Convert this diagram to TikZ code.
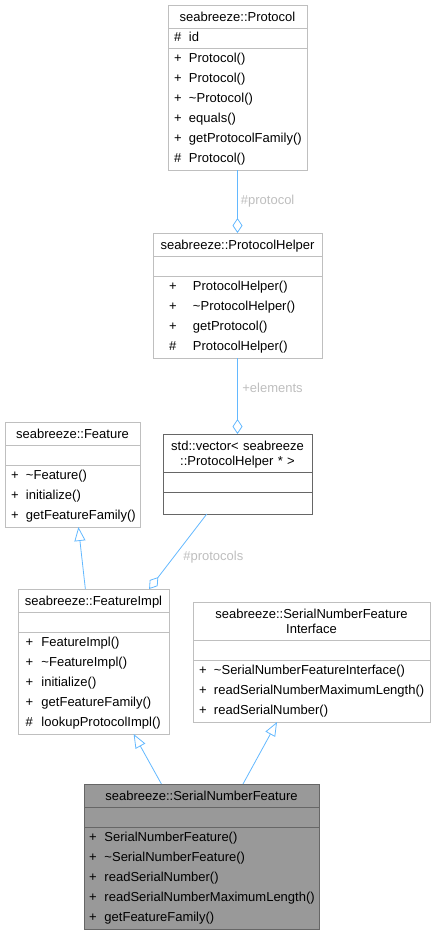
\documentclass[tikz,border=0pt]{standalone}
\usepackage{fontspec}
\setmainfont{Liberation Sans}
\usetikzlibrary{arrows.meta}
\usetikzlibrary{shapes.multipart}

\definecolor{edgeblue}{HTML}{63B8FF}
\definecolor{labelgrey}{HTML}{BEBEBE}
\definecolor{boxgrey}{HTML}{BFBFBF}
\definecolor{darkgrey}{HTML}{666666}
\definecolor{rootfill}{HTML}{999999}

\newlength\opindent
\newlength\opgap
\setlength\opindent{6pt}
\setlength\opgap{15pt}
\newcommand{\titlestrut}{\rule[-6pt]{0pt}{21pt}}
\newcommand{\attrstrut}{\rule[-6pt]{0pt}{18pt}}
\newcommand{\opstrut}{\rule[-7pt]{0pt}{20pt}}
\newcommand{\op}[2]{\hspace*{\opindent}\makebox[\opgap][l]{#1}#2\opstrut}
\newcommand{\classattr}[2]{\hspace*{\opindent}\makebox[\opgap][l]{#1}#2\attrstrut}

\begin{document}
\begin{tikzpicture}[x=1pt, y=-1pt]
\tikzset{font=\fontsize{13}{20}\selectfont}
\tikzset{umlclass/.style={rectangle split, rectangle split parts=3, draw=boxgrey, fill=white, line width=1pt, anchor=north west, outer sep=0pt, inner xsep=0pt, inner ysep=0.5pt}}
\tikzset{undocumented/.style={umlclass, draw=darkgrey}}
\tikzset{rootclass/.style={umlclass, draw=darkgrey, fill=rootfill}}
\tikzset{members/.code 2 args={\setlength\opindent{#1}\setlength\opgap{#2}}}
\tikzset{aggregation/.style={draw=edgeblue, line width=0.8pt, -{Diamond[open, length=15pt, width=10pt]}}}
\tikzset{inheritance/.style={draw=edgeblue, line width=0.8pt, -{Triangle[open, length=14pt, width=11pt]}}}
\tikzset{edgelabel/.style={text=labelgrey, inner sep=0pt}}
\useasboundingbox (0,0) rectangle (434,935);

\node[umlclass, text width=139pt] (protocol) at (168,5) {\centering seabreeze::Protocol\titlestrut\par
\nodepart{two} \classattr{\#}{id}
\nodepart{three} \op{+}{Protocol()}\\ \op{+}{Protocol()}\\ \op{+}{\textasciitilde Protocol()}\\ \op{+}{equals()}\\ \op{+}{getProtocolFamily()}\\ \op{\#}{Protocol()}};

\node[umlclass, text width=169pt, members={16pt}{24pt}] (protocolhelper) at (153,233) {\centering seabreeze::ProtocolHelper\titlestrut\par
\nodepart{two} \attrstrut
\nodepart{three} \op{+}{ProtocolHelper()}\\ \op{+}{\textasciitilde ProtocolHelper()}\\ \op{+}{getProtocol()}\\ \op{\#}{ProtocolHelper()}};

\node[undocumented, text width=149pt] (helpervector) at (163,434) {\centering std::vector< seabreeze\rule{0pt}{15pt}\\[-5pt] ::ProtocolHelper * >\rule[-6pt]{0pt}{6pt}\par
\nodepart{two} \attrstrut
\nodepart{three} \opstrut};

\node[umlclass, text width=135pt] (feature) at (5,422) {\centering seabreeze::Feature\titlestrut\par
\nodepart{two} \attrstrut
\nodepart{three} \op{+}{\textasciitilde Feature()}\\ \op{+}{initialize()}\\ \op{+}{getFeatureFamily()}};

\node[umlclass, text width=151pt, members={7.5pt}{16pt}] (featureimpl) at (18,589) {\centering seabreeze::FeatureImpl\titlestrut\par
\nodepart{two} \attrstrut
\nodepart{three} \op{+}{FeatureImpl()}\\ \op{+}{\textasciitilde FeatureImpl()}\\ \op{+}{initialize()}\\ \op{+}{getFeatureFamily()}\\ \op{\#}{lookupProtocolImpl()}};

\node[umlclass, text width=237pt] (snfinterface) at (193,602) {\centering seabreeze::SerialNumberFeature\rule{0pt}{15pt}\\[-5pt] Interface\rule[-6pt]{0pt}{6pt}\par
\nodepart{two} \attrstrut
\nodepart{three} \op{+}{\textasciitilde SerialNumberFeatureInterface()}\\ \op{+}{readSerialNumberMaximumLength()}\\ \op{+}{readSerialNumber()}};

\node[rootclass, text width=235pt, members={5pt}{15.5pt}] (serialfeature) at (84,784) {\centering seabreeze::SerialNumberFeature\titlestrut\par
\nodepart{two} \attrstrut
\nodepart{three} \op{+}{SerialNumberFeature()}\\ \op{+}{\textasciitilde SerialNumberFeature()}\\ \op{+}{readSerialNumber()}\\ \op{+}{readSerialNumberMaximumLength()}\\ \op{+}{getFeatureFamily()}};

\draw[aggregation] (protocol) -- (protocolhelper) node[edgelabel, midway, right=3pt] {\#protocol};
\draw[aggregation] (protocolhelper) -- (helpervector) node[edgelabel, pos=0.39, right=4.5pt] {+elements};
\draw[aggregation] (helpervector) -- (featureimpl) node[edgelabel, pos=0.57, right=9pt] {\#protocols};
\draw[inheritance] (featureimpl) -- (feature);
\draw[inheritance] (serialfeature) -- (featureimpl);
\draw[inheritance] ([xshift=41.5pt]serialfeature.north) -- ([xshift=-34.5pt]snfinterface.south);
\end{tikzpicture}
\end{document}
